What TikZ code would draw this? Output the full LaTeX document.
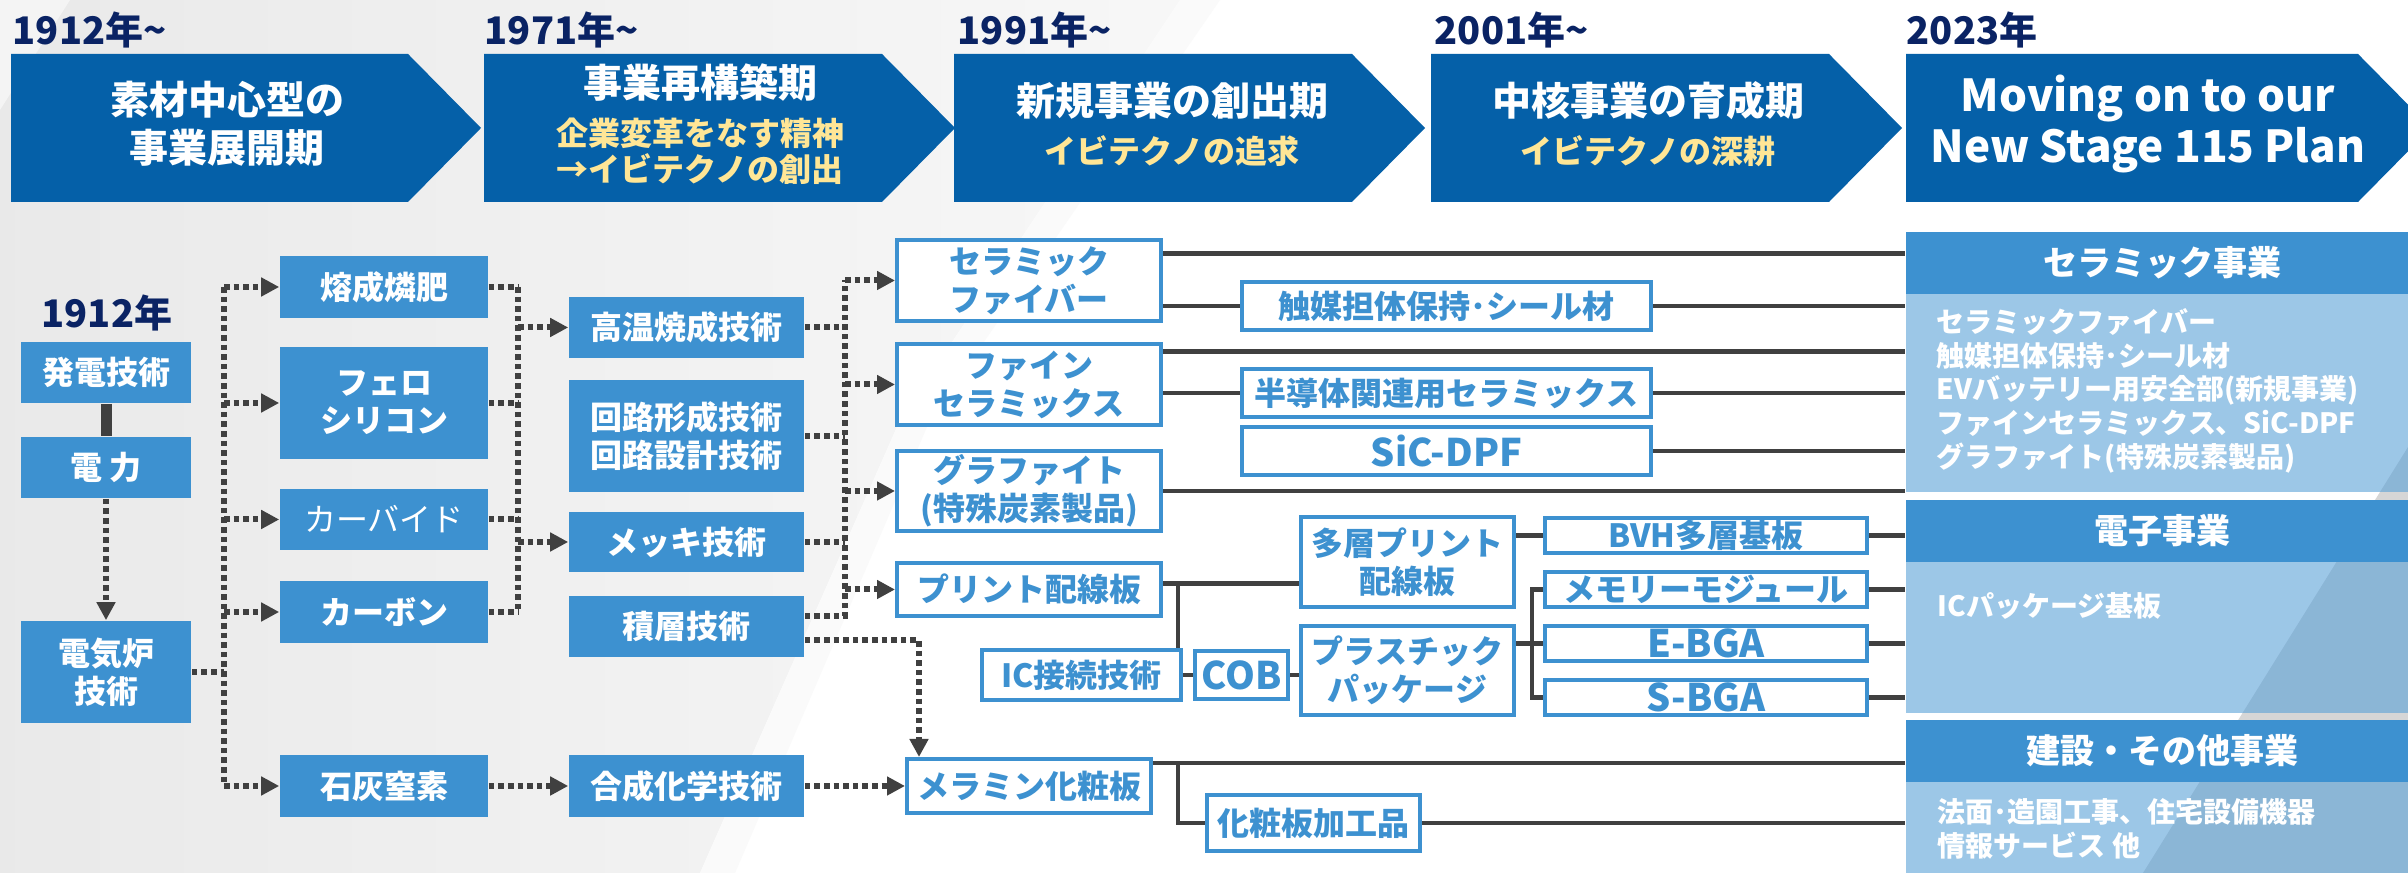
\documentclass[tikz,border=0pt]{standalone}
\usepackage{fontspec}
\setmainfont{Noto Sans CJK JP}
\usetikzlibrary{arrows.meta,calc}
\definecolor{chevblue}{RGB}{5,96,168}
\definecolor{boxblue}{RGB}{61,145,208}
\definecolor{bodyblue}{RGB}{86,159,215}
\definecolor{navy}{RGB}{10,35,100}
\definecolor{subyel}{RGB}{255,230,150}
\definecolor{linegray}{RGB}{64,64,64}
\definecolor{panelgray}{RGB}{214,214,214}
\newcommand{\subline}{\color{subyel}\fontsize{8}{9}\selectfont}

\begin{document}
\begin{tikzpicture}[x=0.25pt,y=-0.25pt,
sz/.style 2 args={minimum width=#1*0.25pt,minimum height=#2*0.25pt},
fbox/.style={fill=boxblue,text=white,inner sep=0,align=center,font=\fontsize{8}{9.5}\selectfont\bfseries},
wbox/.style={draw=boxblue,line width=1pt,fill=white,text=boxblue,inner sep=0,align=center,font=\fontsize{8}{9.5}\selectfont\bfseries},
latin/.style={font=\fontsize{9.5}{10}\selectfont\bfseries},
phase/.style={text=white,align=center,inner sep=0,font=\fontsize{9.75}{12}\selectfont\bfseries},
year/.style={text=navy,inner sep=0,anchor=west,font=\fontsize{9.5}{10}\selectfont\bfseries},
headbox/.style={fill=boxblue,text=white,inner sep=0,font=\fontsize{8.5}{10}\selectfont\bfseries},
bodybox/.style={fill=bodyblue,fill opacity=0.58,inner sep=0},
bodytext/.style={text=white,inner sep=0,anchor=north west,align=left,font=\fontsize{7}{8.4}\selectfont\bfseries},
dots/.style={draw=linegray,line width=1.5pt,dash pattern=on 1.4pt off 1pt},
arr/.style={-{Triangle[length=4.5pt,width=4.5pt]}},
link/.style={draw=linegray,line width=1.1pt}]
\useasboundingbox (0,0) rectangle (2408,873);
\fill[white] (0,0) rectangle (2408,873);
\shade[left color=gray!17,right color=gray!6] (0,0) -- (1180,0) -- (900,420) -- (700,873) -- (0,873) -- cycle;
\fill[gray!4] (1180,0) -- (1220,0) -- (930,420) -- (735,873) -- (700,873) -- (900,420) -- cycle;
\fill[white,opacity=0.5] (0,0) -- (70,0) -- (0,110) -- cycle;
\fill[panelgray] (2408,447) -- (2408,873) -- (2143,873) -- cycle;

\fill[chevblue] (11,54) -- ++(397,0) -- ++(73,74) -- ++(-73,74) -- ++(-397,0) -- cycle;
\fill[chevblue] (484,54) -- ++(398,0) -- ++(73,74) -- ++(-73,74) -- ++(-398,0) -- cycle;
\fill[chevblue] (954,54) -- ++(398,0) -- ++(73,74) -- ++(-73,74) -- ++(-398,0) -- cycle;
\fill[chevblue] (1431,54) -- ++(398,0) -- ++(73,74) -- ++(-73,74) -- ++(-398,0) -- cycle;
\fill[chevblue] (1906,54) -- ++(452,0) -- ++(73,74) -- ++(-73,74) -- ++(-452,0) -- cycle;
\node (y1912) at (12,30)[year] {1912年\textasciitilde};
\node (y1971) at (484,30)[year] {1971年\textasciitilde};
\node (y1991) at (957,30)[year] {1991年\textasciitilde};
\node (y2001) at (1434,30)[year] {2001年\textasciitilde};
\node (y2023) at (1906,30)[year] {2023年};
\node (ph1) at (227,124)[phase] {素材中心型の\\事業展開期};
\node (ph2) at (700,124)[phase] {事業再構築期\\{\subline 企業変革をなす精神}\\[-3pt]{\subline →イビテクノの創出}};
\node (ph3) at (1172,124)[phase] {新規事業の創出期\\{\subline イビテクノの追求}};
\node (ph4) at (1648,124)[phase] {中核事業の育成期\\{\subline イビテクノの深耕}};
\node (ph5) at (2148,124)[phase,font=\fontsize{11}{12.75}\selectfont\bfseries] {Moving on to our\\New Stage 115 Plan};

\node (cerhead) at (2162,263)[headbox,sz={512}{62}] {セラミック事業};
\node (cerbody) at (2162,393)[bodybox,sz={512}{198}] {};
\node (elehead) at (2162,531)[headbox,sz={512}{62}] {電子事業};
\node (elebody) at (2162,637.5)[bodybox,sz={512}{151}] {};
\node (conhead) at (2162,751)[headbox,sz={512}{62}] {建設・その他事業};
\node (conbody) at (2162,830)[bodybox,sz={512}{96}] {};
\node (certext) at (1936,308)[bodytext] {セラミックファイバー\\触媒担体保持･シール材\\EVバッテリー用安全部(新規事業)\\ファインセラミックス、SiC-DPF\\グラファイト(特殊炭素製品)};
\node (eletext) at (1937,592)[bodytext] {ICパッケージ基板};
\node (context) at (1937,798)[bodytext] {法面･造園工事、住宅設備機器\\情報サービス 他};

\node (y1912b) at (107,313)[year,anchor=center] {1912年};
\node (pwr) at (106,372.5)[fbox,sz={170}{61}] {発電技術};
\node (elec) at (106,467.5)[fbox,sz={170}{61}] {電 力};
\node (furn) at (106,672)[fbox,sz={170}{102}] {電気炉\\技術};
\node (yosei) at (384,287)[fbox,sz={208}{62}] {熔成燐肥};
\node (ferro) at (384,403)[fbox,sz={208}{112}] {フェロ\\シリコン};
\node (carbide) at (384,519.5)[fbox,sz={208}{61},font=\fontsize{8}{9.5}\selectfont] {カーバイド};
\node (carbon) at (384,612)[fbox,sz={208}{62}] {カーボン};
\node (lime) at (384,786)[fbox,sz={208}{62}] {石灰窒素};
\node (fire) at (686.5,327.5)[fbox,sz={235}{61}] {高温焼成技術};
\node (circuit) at (686.5,436)[fbox,sz={235}{112}] {回路形成技術\\回路設計技術};
\node (plating) at (686.5,542)[fbox,sz={235}{60}] {メッキ技術};
\node (stack) at (686.5,626.5)[fbox,sz={235}{61}] {積層技術};
\node (synth) at (686.5,786)[fbox,sz={235}{62}] {合成化学技術};
\node (fiber) at (1029,280.5)[wbox,sz={264}{81}] {セラミック\\ファイバー};
\node (fine) at (1029,384.5)[wbox,sz={264}{81}] {ファイン\\セラミックス};
\node (graph) at (1029,491)[wbox,sz={264}{80}] {グラファイト\\(特殊炭素製品)};
\node (pcb) at (1029,589.5)[wbox,sz={264}{53}] {プリント配線板};
\node (melamine) at (1029,786)[wbox,sz={244}{54}] {メラミン化粧板};
\node (catal) at (1446.5,306)[wbox,sz={409}{48}] {触媒担体保持･シール材};
\node (semi) at (1446.5,393)[wbox,sz={409}{48}] {半導体関連用セラミックス};
\node (sicdpf) at (1446.5,451)[wbox,latin,sz={409}{48}] {SiC-DPF};
\node (icjoin) at (1081.5,675)[wbox,sz={199}{50}] {IC接続技術};
\node (cob) at (1241.5,675)[wbox,latin,sz={93}{48}] {COB};
\node (multi) at (1407.5,562)[wbox,sz={213}{90}] {多層プリント\\配線板};
\node (plastic) at (1407.5,670.5)[wbox,sz={213}{89}] {プラスチック\\パッケージ};
\node (bvh) at (1706,535.5)[wbox,sz={322}{35}] {BVH多層基板};
\node (memory) at (1706,589.5)[wbox,sz={322}{35}] {メモリーモジュール};
\node (ebga) at (1706,643.5)[wbox,latin,sz={322}{35}] {E-BGA};
\node (sbga) at (1706,697.5)[wbox,latin,sz={322}{35}] {S-BGA};
\node (decor) at (1313.5,823)[wbox,sz={213}{56}] {化粧板加工品};

\coordinate (t1) at (224,0);
\coordinate (t2) at (518,0);
\coordinate (t3) at (845,0);
\draw [linegray,line width=2.75pt] (pwr) -- (elec);
\draw [dots,arr] (elec) -- (furn);
\draw [dots] (furn.east) -- (t1 |- furn.east);
\draw [dots] (t1 |- yosei.west) -- (t1 |- lime.west);
\draw [dots,arr] (t1 |- yosei.west) -- (yosei.west);
\draw [dots,arr] (t1 |- ferro.west) -- (ferro.west);
\draw [dots,arr] (t1 |- carbide.west) -- (carbide.west);
\draw [dots,arr] (t1 |- carbon.west) -- (carbon.west);
\draw [dots,arr] (t1 |- lime.west) -- (lime.west);
\draw [dots] (yosei.east) -- (t2 |- yosei.east);
\draw [dots] (ferro.east) -- (t2 |- ferro.east);
\draw [dots] (carbide.east) -- (t2 |- carbide.east);
\draw [dots] (carbon.east) -- (t2 |- carbon.east);
\draw [dots] (t2 |- yosei.east) -- (t2 |- carbon.east);
\draw [dots,arr] (t2 |- fire.west) -- (fire.west);
\draw [dots,arr] (t2 |- plating.west) -- (plating.west);
\draw [dots] (fire.east) -- (t3 |- fire.east);
\draw [dots] (circuit.east) -- (t3 |- circuit.east);
\draw [dots] (plating.east) -- (t3 |- plating.east);
\draw [dots] ($(stack.east)+(0,-10.5)$) -| (t3 |- fiber.west);
\draw [dots,arr] (t3 |- fiber.west) -- (fiber.west);
\draw [dots,arr] (t3 |- fine.west) -- (fine.west);
\draw [dots,arr] (t3 |- graph.west) -- (graph.west);
\draw [dots,arr] (t3 |- pcb.west) -- (pcb.west);
\draw [dots,arr] ($(stack.east)+(0,13.5)$) -| ([shift={(14,0)}]melamine.north west);
\draw [dots,arr] (lime) -- (synth);
\draw [dots,arr] (synth) -- (melamine);

\draw [link] ($(fiber.east)+(0,-27)$) -- ($(fiber.east -| cerbody.west)+(0,-27)$);
\draw [link] (fiber.east |- catal.west) -- (catal.west);
\draw [link] (catal.east) -- (catal.east -| cerbody.west);
\draw [link] ($(fine.east)+(0,-33)$) -- ($(fine.east -| cerbody.west)+(0,-33)$);
\draw [link] (fine.east |- semi.west) -- (semi.west);
\draw [link] (semi.east) -- (semi.east -| cerbody.west);
\draw [link] (sicdpf.east) -- (sicdpf.east -| cerbody.west);
\draw [link] (graph.east) -- (graph.east -| cerbody.west);
\draw [link] ($(pcb.east)+(0,-6)$) -- ($(pcb.east -| multi.west)+(0,-6)$);
\draw [link] ($(icjoin.north east)+(-5,0)$) -- ($(icjoin.north east |- pcb.east)+(-5,-6)$);
\draw [link] (icjoin) -- (cob);
\draw [link] (cob.east) -- (cob.east -| plastic.west);
\draw [link] (multi.east |- bvh.west) -- (bvh.west);
\draw [link] (plastic.east |- ebga.west) -- (ebga.west);
\draw [link] (memory.west) -- ++(-11,0) |- (sbga.west);
\draw [link] (bvh.east) -- (bvh.east -| elebody.west);
\draw [link] (memory.east) -- (memory.east -| elebody.west);
\draw [link] (ebga.east) -- (ebga.east -| elebody.west);
\draw [link] (sbga.east) -- (sbga.east -| elebody.west);
\draw [link] ($(melamine.east)+(0,-23)$) -- ($(melamine.east -| conbody.west)+(0,-23)$);
\draw [link] ($(melamine.east)+(25,-23)$) |- (decor.west);
\draw [link] (decor.east) -- (decor.east -| conbody.west);
\end{tikzpicture}
\end{document}
